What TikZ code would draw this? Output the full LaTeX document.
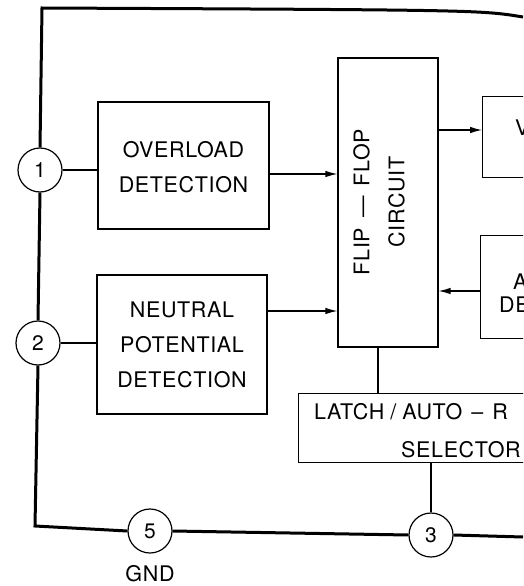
\documentclass[tikz,border=0pt]{standalone}
\usepackage{fontspec}
\setmainfont{TeX Gyre Heros}[LetterSpace=3]
\usetikzlibrary{arrows.meta}
\begin{document}
\begin{tikzpicture}[x=1pt,y=-1pt,
  thin line/.style={line width=1.2pt},
  frame line/.style={line width=3pt},
  blockbox/.style={draw,line width=1.2pt,inner sep=0pt},
  pin/.style={draw,circle,line width=1.2pt,minimum size=44pt,inner sep=0pt,font=\fontsize{21}{21}\selectfont},
  lbl/.style={font=\fontsize{21.5}{35}\selectfont,align=center,inner sep=0pt},
  arr/.style={thin line,-{Latex[length=12pt,width=6.5pt]}}]
\useasboundingbox (0,0) rectangle (523,586);
\clip (0,0) rectangle (523,586);
% pins
\node[pin] (p1) at (40,170) {1};
\node[pin] (p2) at (38,343) {2};
\node[pin] (p5) at (150,531) {5};
\node[pin] (p3) at (431,535) {3};
\node[lbl] (gnd) at (150,574) {GND};
% blocks
\node[blockbox,minimum width=171pt,minimum height=127pt] (ovl) at (183.5,165.5) {};
\node[lbl] (ovlt) at (183.5,167) {OVERLOAD\\DETECTION};
\node[blockbox,minimum width=170pt,minimum height=139pt] (neu) at (182,344.5) {};
\node[lbl] (neut) at (182,345) {NEUTRAL\\POTENTIAL\\DETECTION};
\node[blockbox,minimum width=100pt,minimum height=289pt] (ff) at (388,202.5) {};
\node[lbl,rotate=90] (fft) at (379,202) {FLIP\kern10pt---\kern10pt FLOP\\CIRCUIT};
\node[blockbox,minimum width=80pt,minimum height=81pt,anchor=north west] (vb) at (482,96) {};
\node[lbl,anchor=west] (vbt) at (515,128) {V};
\node[blockbox,minimum width=80pt,minimum height=103pt,anchor=north west] (ab) at (480,235) {};
\node[lbl,anchor=west] (abt1) at (513,282) {A};
\node[lbl,anchor=west] (abt2) at (499,305) {DE};
\node[blockbox,minimum width=260pt,minimum height=69pt,anchor=north west] (lat) at (298,393) {};
\node[lbl,anchor=west] (latt1) at (314,412) {LATCH\kern6pt/\kern6pt AUTO\kern9pt--\kern9pt R};
\node[lbl,anchor=west] (latt2) at (401,450) {SELECTOR};
% frame
\coordinate (tl) at (42,8);
\coordinate (tr) at (523,17);
\coordinate (bl) at (35,526);
\coordinate (br) at (523,537);
\draw[frame line] (tr) .. controls (480,10) .. (tl) -- (p1.north);
\draw[frame line] (p1.south) -- (p2.north);
\draw[frame line] (p2.south) -- (bl) -- (p5.west);
\draw[frame line] (p5.east) -- (p3.west);
\draw[frame line] (p3.east) -- (br);
% connectors
\draw[thin line] (p1.east) -- (ovl.west |- p1.east);
\draw[thin line] (p2.east) -- (neu.west |- p2.east);
\draw[arr] (ovl.east |- 0,174) -- (ff.west |- 0,174);
\draw[arr] (neu.east |- 0,311) -- (ff.west |- 0,311);
\draw[arr] (ff.east |- 0,130) -- (vb.west |- 0,130);
\draw[arr] (ab.west |- 0,291) -- (ff.east |- 0,291);
\draw[thin line] (ff.south -| 378,0) -- (lat.north -| 378,0);
\draw[thin line] (lat.south -| 431,0) -- (p3.north);
\end{tikzpicture}
\end{document}
